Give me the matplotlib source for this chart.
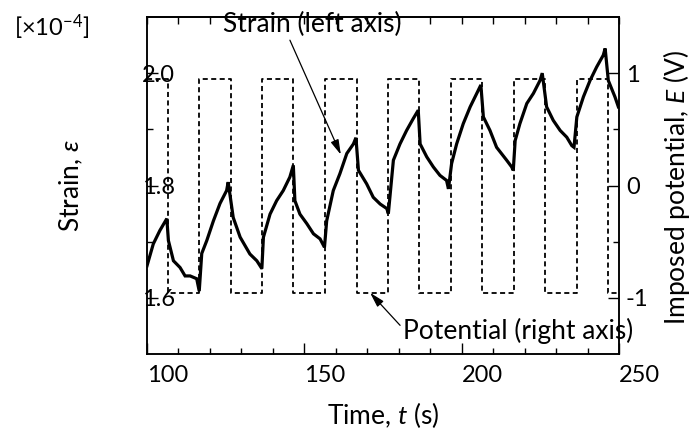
import matplotlib
matplotlib.use('Agg')
import matplotlib.pyplot as plt
from matplotlib.ticker import FixedLocator, FixedFormatter

plt.rcParams['font.family'] = ['Lato', 'DejaVu Sans']
plt.rcParams['mathtext.fontset'] = 'custom'
plt.rcParams['mathtext.rm'] = 'Lato'
plt.rcParams['mathtext.it'] = 'Lato:italic'
plt.rcParams['mathtext.bf'] = 'Lato:bold'
plt.rcParams['axes.unicode_minus'] = False

# ---- data ----
time_s = [100.0, 102.0, 104.1, 106.3, 106.8, 108.4, 110.5, 112.1, 113.7, 115.8, 116.6,
          117.4, 119.0, 121.1, 123.2, 125.3, 125.8, 127.4, 129.6, 132.7, 134.9, 136.5,
          137.0, 139.1, 141.2, 143.3, 145.4, 146.5, 147.0, 148.6, 150.8, 152.9, 155.0, 156.4,
          157.1, 159.2, 161.3, 163.5, 165.6, 166.4, 167.2, 169.8, 171.9, 174.1, 176.2, 176.7,
          178.3, 180.4, 182.5, 184.6, 186.2, 186.8, 188.9, 191.0, 193.1, 195.2, 195.8,
          196.8, 198.4, 200.5, 202.7, 204.8, 206.1, 206.9, 209.0, 211.1, 214.3, 215.9, 216.4,
          217.0, 218.5, 220.7, 222.8, 224.9, 225.6, 227.0, 229.1, 231.3, 233.4, 235.0, 235.7,
          236.6, 238.7, 240.8, 242.9, 245.0, 245.6, 246.6, 248.7, 249.8]
strain = [1.657, 1.696, 1.720, 1.741, 1.702, 1.666, 1.654, 1.639, 1.639, 1.634, 1.612,
          1.679, 1.702, 1.737, 1.768, 1.791, 1.806, 1.743, 1.708, 1.678, 1.666, 1.652,
          1.708, 1.749, 1.773, 1.791, 1.815, 1.836, 1.773, 1.749, 1.732, 1.714, 1.705, 1.690,
          1.737, 1.791, 1.821, 1.857, 1.874, 1.885, 1.827, 1.803, 1.779, 1.767, 1.759, 1.750,
          1.845, 1.874, 1.898, 1.919, 1.934, 1.874, 1.851, 1.833, 1.818, 1.809, 1.794,
          1.839, 1.874, 1.910, 1.940, 1.964, 1.979, 1.922, 1.898, 1.868, 1.845, 1.833, 1.827,
          1.880, 1.910, 1.946, 1.964, 1.987, 2.000, 1.940, 1.916, 1.898, 1.886, 1.871, 1.868,
          1.922, 1.958, 1.987, 2.011, 2.032, 2.044, 1.987, 1.958, 1.940]

switch_times = [100.0, 106.6, 116.6, 126.7, 136.5, 146.5, 156.5, 166.6, 176.5, 186.5,
                196.5, 206.5, 216.5, 226.5, 236.5, 246.4, 250.0]
potential = [0.95, -0.96, 0.95, -0.96, 0.95, -0.96, 0.95, -0.96, 0.95, -0.96,
             0.95, -0.96, 0.95, -0.96, 0.95, -0.96, -0.96]

x_ticks = [100, 150, 200, 250]
x_tick_labels = ['100', '150', '200', '250']
left_ticks = [1.6, 1.8, 2.0]
left_tick_labels = ['1.6', '1.8', '2.0']
right_ticks = [-1, 0, 1]
right_tick_labels = ['-1', '0', '1']

FS = 17
FT = 19
W, H = 691, 432

fig = plt.figure(figsize=(6.91, 4.32), dpi=100)
ax = fig.add_axes([147 / W, 1 - 354 / H, (619 - 147) / W, (354 - 17) / H])
ax2 = ax.twinx()

ax.plot(time_s, strain, color='black', lw=2.3, solid_joinstyle='miter')
ax2.step(switch_times, potential, where='post', color='black', lw=1.3,
         linestyle=(0, (2.8, 1.9)))

ax.set_xlim(100, 250)
ax.set_ylim(1.5, 2.1)
ax2.set_ylim(-1.5, 1.5)

for sp in list(ax.spines.values()) + list(ax2.spines.values()):
    sp.set_linewidth(1.1)

# x axis
ax.xaxis.set_major_locator(FixedLocator(x_ticks))
ax.xaxis.set_major_formatter(FixedFormatter(x_tick_labels))
ax.xaxis.set_minor_locator(FixedLocator(list(range(100, 251, 10))))
ax.tick_params(axis='x', which='both', direction='in', bottom=True, top=False,
               labelsize=FS, pad=8)
ax.tick_params(axis='x', which='major', length=8, width=1.0)
ax.tick_params(axis='x', which='minor', length=4.5, width=1.0)
for lab in ax.get_xticklabels():
    lab.set_ha('left')

sec = ax.secondary_xaxis('top')
sec.set_xticks(list(range(100, 251, 10)))
sec.tick_params(direction='in', length=5, width=1.0, labeltop=False)
sec.spines['top'].set_linewidth(1.1)

# left y axis
ax.yaxis.set_major_locator(FixedLocator(left_ticks))
ax.yaxis.set_major_formatter(FixedFormatter(left_tick_labels))
ax.yaxis.set_minor_locator(FixedLocator([1.7, 1.9]))
ax.tick_params(axis='y', which='both', direction='in', left=True, right=False,
               labelsize=FS, pad=3.5)
ax.tick_params(axis='y', which='major', length=8, width=1.0)
ax.tick_params(axis='y', which='minor', length=4.5, width=1.0)
for lab in ax.get_yticklabels():
    lab.set_ha('left')

# right y axis
ax2.yaxis.set_major_locator(FixedLocator(right_ticks))
ax2.yaxis.set_major_formatter(FixedFormatter(right_tick_labels))
ax2.yaxis.set_minor_locator(FixedLocator([-0.5, 0.5]))
ax2.tick_params(axis='y', which='both', direction='in', labelsize=FS, pad=5)
ax2.tick_params(axis='y', which='major', length=8, width=1.0)
ax2.tick_params(axis='y', which='minor', length=4.5, width=1.0)

# axis labels
fig.text(383 / W, 1 - 415 / H, 'Time, $t$ (s)', ha='center', va='center', fontsize=FT)
fig.text(71 / W, 1 - 186 / H, r'Strain, $\varepsilon$', ha='center', va='center',
         rotation=90, fontsize=FT)
fig.text(676 / W, 1 - 188 / H, 'Imposed potential, $E$ (V)', ha='center', va='center',
         rotation=90, fontsize=FT)
fig.text(52 / W, 1 - 27 / H, '[×10$^{-4}$]', ha='center', va='center', fontsize=FS)

arrow = dict(arrowstyle='-|>,head_length=0.9,head_width=0.25', color='black', lw=0.9,
             shrinkA=0, shrinkB=0, mutation_scale=10)
ax.annotate('Strain (left axis)', xy=(161.6, 1.855), xytext=(152.4, 2.086),
            ha='center', va='center', fontsize=FT,
            arrowprops=dict(arrow, relpos=(0.37, 0.0)), annotation_clip=False)
ax.annotate('Potential (right axis)', xy=(170.9, 1.609), xytext=(217.9, 1.541),
            ha='center', va='center', fontsize=FT,
            arrowprops=dict(arrow, relpos=(0.0, 0.6)), annotation_clip=False)

fig.savefig('out.png', dpi=100)
